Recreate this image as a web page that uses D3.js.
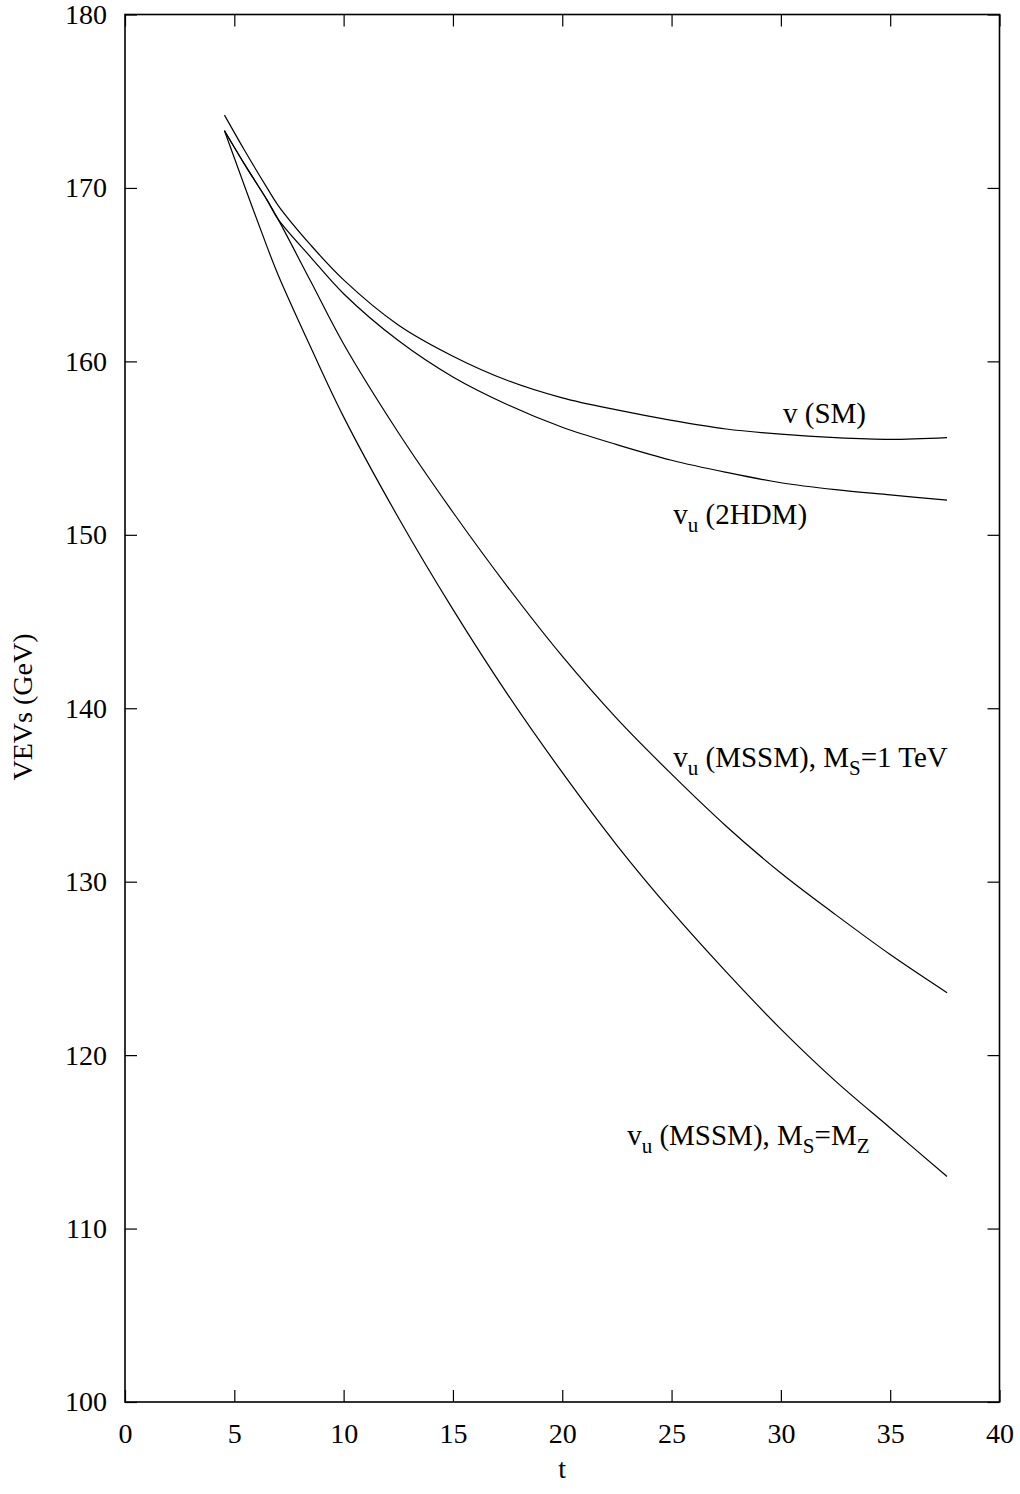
<!DOCTYPE html>
<html lang="en">
<head>
<meta charset="utf-8">
<title>VEVs running</title>
<script type="text/javascript" src="https://cdn.jsdelivr.net/npm/d3@7"></script>
<style type="text/css">
  html, body { margin: 0; padding: 0; background: white; overflow: hidden; }
  text { font-family: "Liberation Serif", "Times New Roman", serif; fill: #000; }
  .tick text { font-size: 28px; }
  path.curve { fill: none; stroke: #000; stroke-width: 1.2; }
</style>
</head>
<body>
<div id="chart"></div>
<script type="text/javascript">

// t = ln(mu / GeV), common grid for all curves
var tGrid  = [4.55, 5.5, 6.5, 7.0, 8.5, 10, 12.5, 15, 17.5, 20, 22.5, 25, 27.5, 30, 32.5, 35, 37.6];
var vSM    = [174.2, 172.1, 170.0, 169.0, 166.7, 164.7, 162.1, 160.3, 158.9, 157.9, 157.2, 156.6, 156.1, 155.8, 155.6, 155.5, 155.6];
var v2HDM  = [173.3, 171.3, 169.3, 168.2, 166.0, 163.9, 161.2, 159.1, 157.5, 156.2, 155.2, 154.3, 153.6, 153.0, 152.6, 152.3, 152.0];
var vMSSM1 = [173.3, 171.3, 169.3, 168.2, 164.6, 161.0, 155.9, 151.3, 147.0, 143.0, 139.4, 136.2, 133.2, 130.5, 128.1, 125.8, 123.6];
var vMSSMZ = [173.3, 170.0, 166.6, 165.0, 160.8, 156.8, 151.0, 145.7, 140.8, 136.3, 132.1, 128.3, 124.8, 121.5, 118.5, 115.8, 113.0];

var xTicks = [0, 5, 10, 15, 20, 25, 30, 35, 40];
var yTicks = [100, 110, 120, 130, 140, 150, 160, 170, 180];

// curve labels: [text, isSubscript] pieces, placed in data coords
var labels = [
  {t: 30.1,  v: 156.45, parts: [["v", 0], [" (SM)", 0]]},
  {t: 25.08, v: 150.65, parts: [["v", 0], ["u", 1], [" (2HDM)", 0]]},
  {t: 25.08, v: 136.62, parts: [["v", 0], ["u", 1], [" (MSSM), M", 0], ["S", 1], ["=1 TeV", 0]]},
  {t: 22.97, v: 114.82, parts: [["v", 0], ["u", 1], [" (MSSM), M", 0], ["S", 1], ["=M", 0], ["Z", 1]]}
];

var W = 1020, H = 1494;
var plotL = 125, plotR = 999.5, plotT = 14.5, plotB = 1402;

var svg = d3.select("#chart").append("svg")
  .attr("width", W)
  .attr("height", H);

var x = d3.scaleLinear().domain([0, 40]).range([plotL, plotR]);
var y = d3.scaleLinear().domain([100, 180]).range([plotB, plotT]);

// axes with inward ticks, mirrored on top / right
svg.append("g")
  .attr("transform", "translate(0," + plotB + ")")
  .call(d3.axisBottom(x).tickValues(xTicks).tickSize(-12).tickPadding(21));
svg.append("g")
  .attr("transform", "translate(0," + plotT + ")")
  .call(d3.axisTop(x).tickValues(xTicks).tickSize(-12).tickFormat(""));
svg.append("g")
  .attr("transform", "translate(" + plotL + ",0)")
  .call(d3.axisLeft(y).tickValues(yTicks).tickSize(-12).tickPadding(18));
svg.append("g")
  .attr("transform", "translate(" + plotR + ",0)")
  .call(d3.axisRight(y).tickValues(yTicks).tickSize(-12).tickFormat(""));

svg.selectAll(".domain").remove();
svg.selectAll(".tick line").attr("stroke", "#000").attr("stroke-width", 1.2);
svg.selectAll(".tick text").attr("fill", "#000").style("font-family", "Liberation Serif, Times New Roman, serif");

// frame
svg.append("rect")
  .attr("x", plotL).attr("y", plotT)
  .attr("width", plotR - plotL).attr("height", plotB - plotT)
  .attr("fill", "none").attr("stroke", "#000").attr("stroke-width", 1.6);

// curves
var line = d3.line()
  .x(function(d) { return x(d[0]); })
  .y(function(d) { return y(d[1]); })
  .curve(d3.curveCatmullRom.alpha(0.5));

[vSM, v2HDM, vMSSM1, vMSSMZ].forEach(function(vals) {
  svg.append("path")
    .attr("class", "curve")
    .attr("d", line(d3.zip(tGrid, vals)));
});

// curve labels with subscripts
labels.forEach(function(l) {
  var txt = svg.append("text")
    .attr("x", x(l.t))
    .attr("y", y(l.v))
    .style("font-size", "29px");
  var shifted = 0;
  l.parts.forEach(function(p) {
    var sub = p[1] === 1;
    var dy = sub ? 8 - shifted : -shifted;
    shifted = sub ? 8 : 0;
    txt.append("tspan")
      .attr("dy", dy)
      .style("font-size", sub ? "21px" : "29px")
      .text(p[0]);
  });
});

// axis titles
svg.append("text")
  .attr("x", x(20))
  .attr("y", 1478)
  .attr("text-anchor", "middle")
  .style("font-size", "28px")
  .text("t");

svg.append("text")
  .attr("transform", "translate(32," + 707 + ") rotate(-90)")
  .attr("text-anchor", "middle")
  .style("font-size", "28px")
  .text("VEVs (GeV)");

</script>
</body>
</html>
